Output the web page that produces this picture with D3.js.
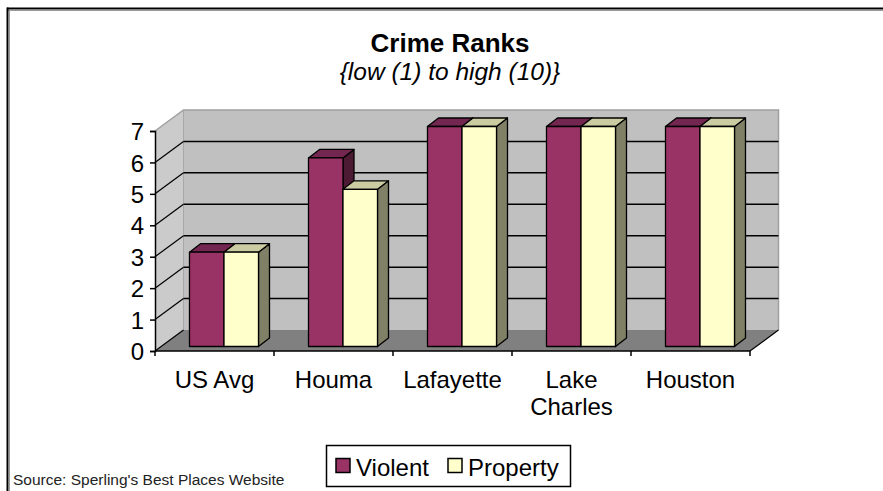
<!DOCTYPE html>
<meta charset="utf-8">
<style>
body { margin: 0; background: #fff; }
svg { display: block; }
text { font-family: Arial, "Liberation Sans", sans-serif; fill: #000; }
</style>
<body>
<div id="chart"></div>
<script src="https://cdn.jsdelivr.net/npm/d3@7"></script>
<script>

// data
var categories = ["US Avg", "Houma", "Lafayette", "Lake Charles", "Houston"];
var violent = [3, 6, 7, 7, 7];
var property = [3, 5, 7, 7, 7];
var seriesNames = ["Violent", "Property"];
var yTicks = [0, 1, 2, 3, 4, 5, 6, 7];

var width = 883,
    height = 491;

var svg = d3.select("#chart").append("svg")
    .attr("width", width)
    .attr("height", height);

// outer frame (top and left only show in the picture)
svg.append("line").attr("x1", 7).attr("y1", 8.5).attr("x2", width).attr("y2", 8.5)
    .attr("stroke", "#000").attr("stroke-width", 2);
svg.append("line").attr("x1", 7).attr("y1", 10.5).attr("x2", width).attr("y2", 10.5)
    .attr("stroke", "#999").attr("stroke-width", 1);
svg.append("line").attr("x1", 7.5).attr("y1", 7.5).attr("x2", 7.5).attr("y2", height)
    .attr("stroke", "#000").attr("stroke-width", 2);
svg.append("line").attr("x1", 9.5).attr("y1", 10).attr("x2", 9.5).attr("y2", height)
    .attr("stroke", "#999").attr("stroke-width", 1);

// title
svg.append("text")
    .attr("x", 450).attr("y", 52)
    .attr("text-anchor", "middle")
    .style("font-size", "26px").style("font-weight", "bold")
    .text("Crime Ranks");
svg.append("text")
    .attr("x", 450).attr("y", 80)
    .attr("text-anchor", "middle")
    .style("font-size", "24.5px").style("font-style", "italic")
    .text("{low (1) to high (10)}");

// scales, front plane
var x = d3.scaleBand()
    .domain(categories)
    .range([155, 750]);

var y = d3.scaleLinear()
    .domain([0, 7])
    .range([351, 131]);

// oblique depth of the box
var DX = 28.5, DY = -21;

var box = svg.append("g");

// back wall
box.append("rect")
    .attr("x", x.range()[0] + DX).attr("y", y(7) + DY)
    .attr("width", x.range()[1] - x.range()[0])
    .attr("height", y(0) - y(7))
    .attr("fill", "#c0c0c0");

// left wall
box.append("polygon")
    .attr("points", [[x.range()[0], y(0)], [x.range()[0], y(7)],
        [x.range()[0] + DX, y(7) + DY], [x.range()[0] + DX, y(0) + DY]].join(" "))
    .attr("fill", "#cbcbcb");

// floor
box.append("polygon")
    .attr("points", [[x.range()[0], y(0)], [x.range()[1], y(0)],
        [x.range()[1] + DX, y(0) + DY], [x.range()[0] + DX, y(0) + DY]].join(" "))
    .attr("fill", "#808080");

// wall edges (grey)
box.append("polyline")
    .attr("points", [[x.range()[0], y(7)], [x.range()[0] + DX, y(7) + DY],
        [x.range()[1] + DX, y(7) + DY], [x.range()[1] + DX, y(0) + DY]].join(" "))
    .attr("fill", "none")
    .attr("stroke", "#a0a0a0")
    .attr("stroke-width", 1.5);
box.append("line")
    .attr("x1", x.range()[0] + DX).attr("y1", y(7) + DY)
    .attr("x2", x.range()[0] + DX).attr("y2", y(0) + DY)
    .attr("stroke", "#a8a8a8");

// gridlines
var grid = yTicks.filter(function(d) { return d > 0 && d < 7; });
box.selectAll(".gridBack").data(grid).enter().append("line")
    .attr("x1", x.range()[0] + DX).attr("x2", x.range()[1] + DX)
    .attr("y1", function(d) { return y(d) + DY; })
    .attr("y2", function(d) { return y(d) + DY; })
    .attr("stroke", "#000").attr("stroke-width", 1.5);
box.selectAll(".gridSide").data(yTicks.filter(function(d) { return d < 7; })).enter().append("line")
    .attr("x1", x.range()[0]).attr("x2", x.range()[0] + DX)
    .attr("y1", function(d) { return y(d); })
    .attr("y2", function(d) { return y(d) + DY; })
    .attr("stroke", "#000").attr("stroke-width", 1.2);
box.append("line")
    .attr("x1", x.range()[1]).attr("y1", y(0))
    .attr("x2", x.range()[1] + DX).attr("y2", y(0) + DY)
    .attr("stroke", "#000").attr("stroke-width", 1.2);

// bars
var barW = 34.5,
    barDX = 9.5, barDY = -4.5,   // front face sits a bit inside the floor
    topDX = 11, topDY = -8.5;   // depth of a bar

var colors = {
    front: ["#993366", "#ffffcc"],
    top: ["#732650", "#cccca3"],
    side: ["#4d1a33", "#808066"]
};

var series = [violent, property];

categories.forEach(function(c, i) {
    var x0 = x(c) + (x.bandwidth() - 2 * barW) / 2 + barDX;
    series.forEach(function(vals, s) {
        var xl = x0 + s * barW,
            xr = xl + barW,
            yt = y(vals[i]) + barDY,
            yb = y(0) + barDY;
        var g = svg.append("g")
            .attr("stroke", "#000")
            .attr("stroke-width", 1.3)
            .attr("stroke-linejoin", "round");
        g.append("polygon")
            .attr("points", [[xr, yt], [xr + topDX, yt + topDY], [xr + topDX, yb + topDY], [xr, yb]].join(" "))
            .attr("fill", colors.side[s]);
        g.append("polygon")
            .attr("points", [[xl, yt], [xl + topDX, yt + topDY], [xr + topDX, yt + topDY], [xr, yt]].join(" "))
            .attr("fill", colors.top[s]);
        g.append("rect")
            .attr("x", xl).attr("y", yt)
            .attr("width", barW).attr("height", yb - yt)
            .attr("fill", colors.front[s]);
    });
});

// axes
var yAxis = svg.append("g")
    .attr("transform", "translate(" + x.range()[0] + ",0)")
    .call(d3.axisLeft(y).tickValues(yTicks).tickSize(5).tickPadding(6).tickFormat(d3.format("d")));
yAxis.select(".domain").attr("stroke-width", 1.5);
yAxis.selectAll(".tick line").attr("stroke-width", 1.5);
yAxis.selectAll("text").style("font-size", "24px").style("font-family", "Arial, 'Liberation Sans', sans-serif")
    .attr("dy", "0.36em");

var xAxis = svg.append("g")
    .attr("transform", "translate(0," + y(0) + ")");
xAxis.append("line")
    .attr("x1", x.range()[0]).attr("x2", x.range()[1])
    .attr("stroke", "#000").attr("stroke-width", 1.5);
xAxis.selectAll(".tk").data(categories.concat([null])).enter().append("line")
    .attr("x1", function(d, i) { return x.range()[0] + i * x.step(); })
    .attr("x2", function(d, i) { return x.range()[0] + i * x.step(); })
    .attr("y1", 0).attr("y2", 5)
    .attr("stroke", "#000").attr("stroke-width", 1.5);

var catLabel = svg.selectAll(".cat").data(categories).enter().append("text")
    .attr("text-anchor", "middle")
    .attr("x", function(d) { return x(d) + x.bandwidth() / 2; })
    .attr("y", 388)
    .style("font-size", "24px");
catLabel.each(function(d) {
    var words = d === "Lake Charles" ? d.split(" ") : [d];
    var t = d3.select(this);
    words.forEach(function(w, k) {
        t.append("tspan")
            .attr("x", x(d) + x.bandwidth() / 2)
            .attr("dy", k === 0 ? 0 : 27)
            .text(w);
    });
});

// legend
var legend = svg.append("g");
legend.append("rect")
    .attr("x", 326.5).attr("y", 445.5)
    .attr("width", 244).attr("height", 41)
    .attr("fill", "#fff")
    .attr("stroke", "#000").attr("stroke-width", 1.5);
var legX = [336, 448];
seriesNames.forEach(function(n, s) {
    legend.append("rect")
        .attr("x", legX[s]).attr("y", 458.5)
        .attr("width", 14).attr("height", 14)
        .attr("fill", colors.front[s])
        .attr("stroke", "#000").attr("stroke-width", 1.5);
    legend.append("text")
        .attr("x", legX[s] + 20).attr("y", 476)
        .style("font-size", "24px")
        .text(n);
});

// source note
svg.append("text")
    .attr("x", 13).attr("y", 485)
    .style("font-size", "15.5px")
    .style("fill", "#222")
    .text("Source: Sperling's Best Places Website");

</script>
